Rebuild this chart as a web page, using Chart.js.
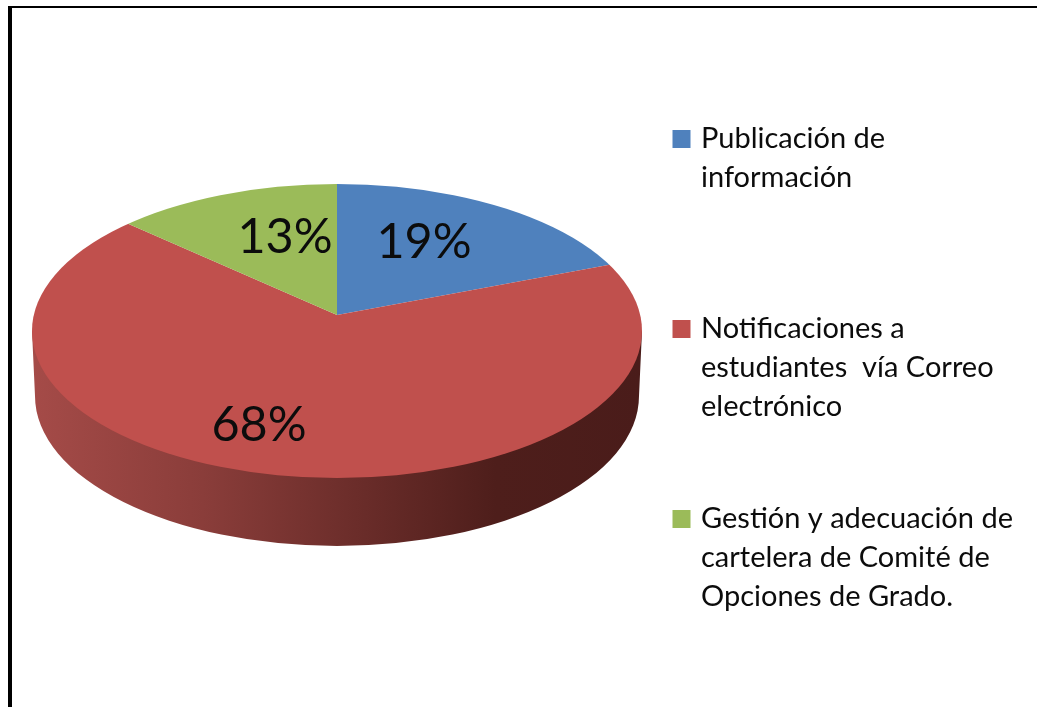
<!DOCTYPE html>
<html>
<head>
<meta charset="utf-8">
<style>html,body{margin:0;padding:0;background:#fff;overflow:hidden}canvas{display:block}</style>
<script src="https://cdn.jsdelivr.net/npm/chart.js@4/dist/chart.umd.min.js"></script>
</head>
<body>
<canvas id="c" width="1037" height="707"></canvas>
<script>
const categories = [
  ["Publicación de", "información"],
  ["Notificaciones a", "estudiantes  vía Correo", "electrónico"],
  ["Gestión y adecuación de", "cartelera de Comité de", "Opciones de Grado."]
];
const values = [19, 68, 13];
const colors = ["#4f81bd", "#c0504d", "#9bbb59"];
const percentLabels = ["19%", "68%", "13%"];

const FONT = "Lato, Carlito, sans-serif";
const LEGEND_LINES = 4;

const pie3d = {
  id: "pie3d",
  afterLayout(chart) {
    chart.legend.left = 642.5;
    chart.legend.top = 90.5;
  },
  beforeDraw(chart) {
    const ctx = chart.ctx;
    ctx.save();
    ctx.fillStyle = "#fff";
    ctx.fillRect(0, 0, chart.width, chart.height);
    ctx.fillStyle = "#000";
    ctx.fillRect(8, 6, chart.width - 8, 2);
    ctx.fillRect(8, 6, 4, chart.height - 6);
    ctx.restore();
  },
  beforeDatasetsDraw(chart) {
    const ctx = chart.ctx;
    ctx.save();
    const g = ctx.createLinearGradient(32, 0, 642, 0);
    g.addColorStop(0, "#a54b48");
    g.addColorStop(0.28, "#8a3d3a");
    g.addColorStop(0.5, "#6f2f2c");
    g.addColorStop(0.76, "#4e1e1b");
    g.addColorStop(1, "#4a1c1a");
    ctx.fillStyle = g;
    ctx.beginPath();
    ctx.moveTo(32, 331);
    ctx.lineTo(35, 396);
    ctx.ellipse(337, 396, 302, 150, 0, Math.PI, 0, true);
    ctx.lineTo(642, 331);
    ctx.closePath();
    ctx.fill();
    ctx.restore();

    const arc = chart.getDatasetMeta(0).data[0];
    ctx.save();
    ctx.beginPath();
    ctx.ellipse(337, 331, 305, 147, 0, 0, Math.PI * 2);
    ctx.clip();
    ctx.translate(337, 315);
    ctx.scale(1, 0.465);
    ctx.translate(-arc.x, -arc.y);
  },
  afterDatasetsDraw(chart) {
    const ctx = chart.ctx;
    ctx.restore();
    ctx.save();
    ctx.fillStyle = "#0c0c0c";
    ctx.font = "48.5px " + FONT;
    ctx.textAlign = "center";
    ctx.textBaseline = "middle";
    const anchors = [[424, 242], [259, 425], [285, 237]];
    percentLabels.forEach((t, i) => ctx.fillText(t, anchors[i][0], anchors[i][1]));
    ctx.restore();
  }
};

new Chart(document.getElementById("c"), {
  type: "pie",
  data: {
    labels: categories,
    datasets: [{
      data: values,
      backgroundColor: colors,
      borderWidth: 0,
      clip: false
    }]
  },
  options: {
    responsive: false,
    animation: false,
    radius: 420,
    plugins: {
      tooltip: { enabled: false },
      legend: {
        position: "right",
        align: "start",
        labels: {
          boxWidth: 10,
          boxHeight: 10,
          padding: 34,
          color: "#0c0c0c",
          font: { family: FONT, size: 29, lineHeight: 39 / 29 },
          generateLabels(chart) {
            return categories.map((lines, i) => {
              const text = lines.slice();
              while (text.length < LEGEND_LINES) text.push("");
              return {
                text,
                fillStyle: colors[i],
                strokeStyle: colors[i],
                lineWidth: 8,
                fontColor: "#0c0c0c",
                hidden: false,
                index: i
              };
            });
          }
        }
      }
    }
  },
  plugins: [pie3d]
});
</script>
</body>
</html>
